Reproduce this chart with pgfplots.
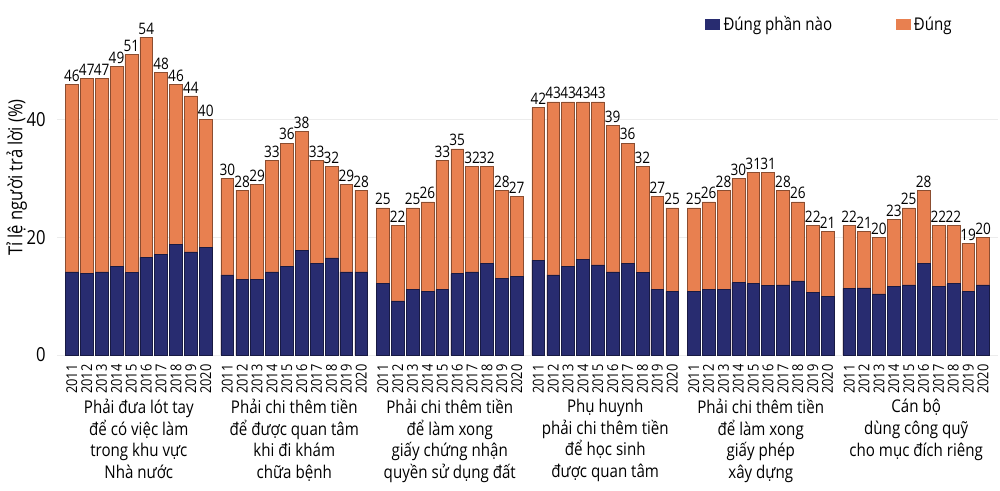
\documentclass[border=0pt]{standalone}
\usepackage{fontspec}
\setmainfont[FakeStretch=0.86]{Open Sans}
\usepackage{pgfplots}
\usepackage{pgfplotstable}
\pgfplotsset{compat=1.18}
\definecolor{navy}{RGB}{40,44,112}
\definecolor{orng}{RGB}{232,128,80}

\pgfplotstableread{
x blue total
0 14.1 46
1 13.8 47
2 14.1 47
3 15.0 49
4 14.0 51
5 16.6 54
6 17.1 48
7 18.8 46
8 17.5 44
9 18.3 40
10.45 13.6 30
11.45 12.9 28
12.45 12.9 29
13.45 14.1 33
14.45 15.0 36
15.45 17.8 38
16.45 15.5 33
17.45 16.5 32
18.45 14.1 29
19.45 14.1 28
20.9 12.1 25
21.9 9.2 22
22.9 11.1 25
23.9 10.8 26
24.9 11.1 33
25.9 13.8 35
26.9 14.1 32
27.9 15.5 32
28.9 13.0 28
29.9 13.4 27
31.35 16.1 42
32.35 13.6 43
33.35 15.0 43
34.35 16.3 43
35.35 15.3 43
36.35 14.1 39
37.35 15.6 36
38.35 14.0 32
39.35 11.1 27
40.35 10.8 25
41.8 10.8 25
42.8 11.1 26
43.8 11.1 28
44.8 12.3 30
45.8 12.1 31
46.8 11.8 31
47.8 11.9 28
48.8 12.6 26
49.8 10.6 22
50.8 9.9 21
52.25 11.3 22
53.25 11.4 21
54.25 10.4 20
55.25 11.6 23
56.25 11.9 25
57.25 15.5 28
58.25 11.6 22
59.25 12.1 22
60.25 10.8 19
61.25 11.9 20
}\data

\tikzset{catlabel/.style={anchor=north, inner sep=0pt, align=center, yshift=-0.88cm,
   font=\fontsize{10}{12.3}\selectfont}}

\begin{document}
\begin{tikzpicture}
\begin{axis}[
  scale only axis, width=18.82cm, height=7.1cm,
  xmin=-1, xmax=62.25, ymin=0, ymax=60.3,
  ybar, bar width=0.86, bar shift=0pt,
  axis line style={draw=none}, tick style={draw=none},
  ytick={0,20,40}, ymajorgrids, grid style={gray!15, line width=0.4pt},
  xtick=data,
  xticklabels={2011,2012,2013,2014,2015,2016,2017,2018,2019,2020,
               2011,2012,2013,2014,2015,2016,2017,2018,2019,2020,
               2011,2012,2013,2014,2015,2016,2017,2018,2019,2020,
               2011,2012,2013,2014,2015,2016,2017,2018,2019,2020,
               2011,2012,2013,2014,2015,2016,2017,2018,2019,2020,
               2011,2012,2013,2014,2015,2016,2017,2018,2019,2020},
  xticklabel style={rotate=90, anchor=east, font=\fontsize{8.5}{9}\selectfont, inner sep=1pt},
  yticklabel style={font=\fontsize{11}{12}\selectfont, xshift=-3pt},
  /pgf/number format/assume math mode=true,
  ylabel={Tỉ lệ người trả lời (\%)},
  ylabel style={font=\fontsize{11}{12}\selectfont},
  ylabel shift=-0.25cm,
  clip=false,
  legend style={at={(rel axis cs:0.683,0.93)}, anchor=west, draw=none, fill=none,
    legend columns=2, font=\fontsize{10}{12}\selectfont,
    /tikz/every even column/.append style={column sep=1.2cm}},
]
\addplot[fill=orng, draw=orng!60!black, line width=0.3pt, forget plot,
  nodes near coords,
  nodes near coords style={font=\fontsize{9}{10}\selectfont, inner sep=1.5pt, anchor=south, text=black}]
  table[x=x, y=total] {\data};
\addplot[fill=navy, draw=navy!60!black, line width=0.3pt, forget plot]
  table[x=x, y=blue] {\data};

\addlegendimage{legend image code/.code={\fill[navy] (0cm,-0.1cm) rectangle (0.28cm,0.1cm);}}
\addlegendentry{Đúng phần nào}
\addlegendimage{legend image code/.code={\fill[orng] (0cm,-0.1cm) rectangle (0.28cm,0.1cm);}}
\addlegendentry{Đúng}

\node[catlabel] at (axis cs:4.5,0) {Phải đưa lót tay\\để có việc làm\\trong khu vực\\Nhà nước};
\node[catlabel] at (axis cs:14.95,0) {Phải chi thêm tiền\\để được quan tâm\\khi đi khám\\chữa bệnh};
\node[catlabel] at (axis cs:25.4,0) {Phải chi thêm tiền\\để làm xong\\giấy chứng nhận\\quyền sử dụng đất};
\node[catlabel] at (axis cs:35.85,0) {Phụ huynh\\phải chi thêm tiền\\để học sinh\\được quan tâm};
\node[catlabel] at (axis cs:46.3,0) {Phải chi thêm tiền\\để làm xong\\giấy phép\\xây dựng};
\node[catlabel] at (axis cs:56.75,0) {Cán bộ\\dùng công quỹ\\cho mục đích riêng};
\end{axis}
\pgfresetboundingbox
\path[use as bounding box] (-1.14cm,-2.72cm) rectangle (18.86cm,7.1cm);
\end{tikzpicture}
\end{document}
